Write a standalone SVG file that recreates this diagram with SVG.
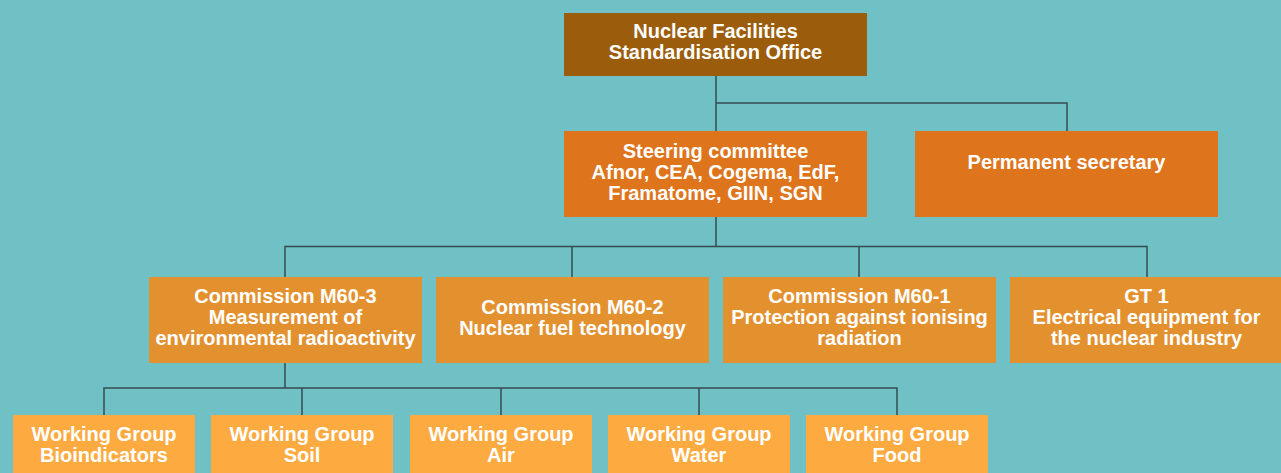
<svg xmlns="http://www.w3.org/2000/svg" width="1281" height="473" viewBox="0 0 1281 473">
  <style>
    .lbl { font-family: "Liberation Sans", Arial, sans-serif; font-weight: bold; font-size: 20px; fill: #ffffff; text-anchor: middle; }
    .office { fill: #9b5d0b; }
    .steer { fill: #de741c; }
    .comm { fill: #e3912f; }
    .wg { fill: #fdaa41; }
    .conn { fill: none; stroke: #364b50; stroke-width: 1.5; }
  </style>
  <rect x="0" y="0" width="1281" height="473" fill="#6fc1c5"/>

  <!-- connectors -->
  <g id="connectors" class="conn">
    <path d="M716 76 V131 M716 103 H1067 V131"/>
    <path d="M716 217 V246.5 M285 277 V246.5 H1147 V277 M572 246.5 V277 M859 246.5 V277"/>
    <path d="M285 363 V388 M104 415 V388 H897 V415 M302 388 V415 M501 388 V415 M699 388 V415"/>
  </g>

  <!-- level 1 -->
  <g id="office">
    <rect class="office" x="564" y="13" width="303" height="63"/>
    <text class="lbl" x="715.5" y="38">Nuclear Facilities</text>
    <text class="lbl" x="715.5" y="59">Standardisation Office</text>
  </g>

  <!-- level 2 -->
  <g id="steering">
    <rect class="steer" x="564" y="131" width="303" height="86"/>
    <text class="lbl" x="715.5" y="158">Steering committee</text>
    <text class="lbl" x="715.5" y="179">Afnor, CEA, Cogema, EdF,</text>
    <text class="lbl" x="715.5" y="200">Framatome, GIIN, SGN</text>
  </g>
  <g id="secretary">
    <rect class="steer" x="915" y="131" width="303" height="86"/>
    <text class="lbl" x="1066.5" y="169">Permanent secretary</text>
  </g>

  <!-- level 3 -->
  <g id="m60-3">
    <rect class="comm" x="149" y="277" width="273" height="86"/>
    <text class="lbl" x="285.5" y="303">Commission M60-3</text>
    <text class="lbl" x="285.5" y="324">Measurement of</text>
    <text class="lbl" x="285.5" y="345">environmental radioactivity</text>
  </g>
  <g id="m60-2">
    <rect class="comm" x="436" y="277" width="273" height="86"/>
    <text class="lbl" x="572.5" y="314">Commission M60-2</text>
    <text class="lbl" x="572.5" y="335">Nuclear fuel technology</text>
  </g>
  <g id="m60-1">
    <rect class="comm" x="723" y="277" width="273" height="86"/>
    <text class="lbl" x="859.5" y="303">Commission M60-1</text>
    <text class="lbl" x="859.5" y="324">Protection against ionising</text>
    <text class="lbl" x="859.5" y="345">radiation</text>
  </g>
  <g id="gt1">
    <rect class="comm" x="1010" y="277" width="273" height="86"/>
    <text class="lbl" x="1146.5" y="303">GT 1</text>
    <text class="lbl" x="1146.5" y="324">Electrical equipment for</text>
    <text class="lbl" x="1146.5" y="345">the nuclear industry</text>
  </g>

  <!-- level 4 -->
  <g id="wg-bio">
    <rect class="wg" x="13" y="415" width="182" height="70"/>
    <text class="lbl" x="104" y="441">Working Group</text>
    <text class="lbl" x="104" y="462">Bioindicators</text>
  </g>
  <g id="wg-soil">
    <rect class="wg" x="211" y="415" width="182" height="70"/>
    <text class="lbl" x="302" y="441">Working Group</text>
    <text class="lbl" x="302" y="462">Soil</text>
  </g>
  <g id="wg-air">
    <rect class="wg" x="410" y="415" width="182" height="70"/>
    <text class="lbl" x="501" y="441">Working Group</text>
    <text class="lbl" x="501" y="462">Air</text>
  </g>
  <g id="wg-water">
    <rect class="wg" x="608" y="415" width="182" height="70"/>
    <text class="lbl" x="699" y="441">Working Group</text>
    <text class="lbl" x="699" y="462">Water</text>
  </g>
  <g id="wg-food">
    <rect class="wg" x="806" y="415" width="182" height="70"/>
    <text class="lbl" x="897" y="441">Working Group</text>
    <text class="lbl" x="897" y="462">Food</text>
  </g>
</svg>
